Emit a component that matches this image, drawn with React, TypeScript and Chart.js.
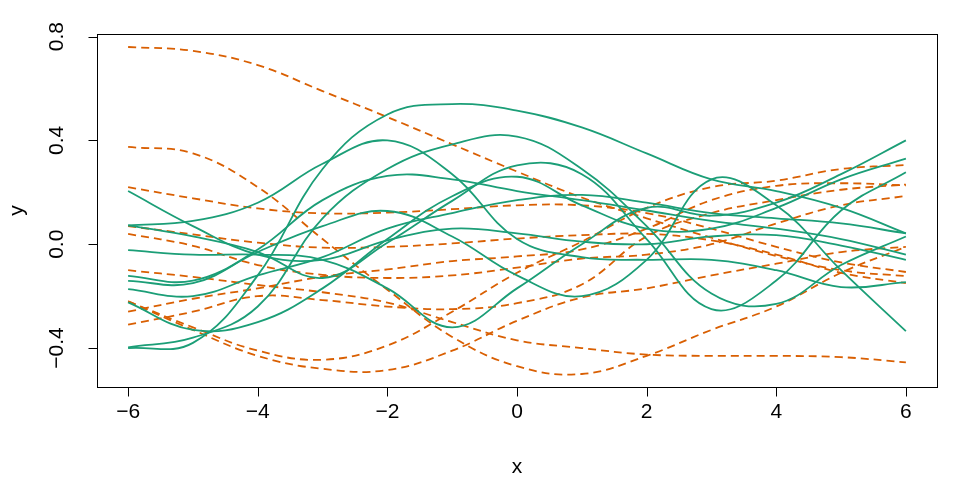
import React, { useEffect, useRef } from "react";
import { Chart, registerables } from "chart.js";

Chart.register(...registerables);

// shared x grid
const xs = [-6, -5, -4, -3, -2, -1, 0, 1, 2, 3, 4, 5, 6];

// green (solid) series
const g1 = [-0.40, -0.38, -0.12, 0.29, 0.5, 0.54, 0.515, 0.45, 0.35, 0.25, 0.205, 0.14, 0.042];
const g2 = [0.073, 0.09, 0.16, 0.31, 0.4, 0.27, 0.02, -0.05, -0.06, -0.06, -0.1, -0.165, -0.146];
const g3 = [-0.397, -0.36, -0.24, 0.1, 0.29, 0.385, 0.415, 0.29, 0.07, -0.19, -0.23, -0.08, 0.03];
const g4 = [-0.141, -0.15, -0.03, 0.07, 0.128, 0.03, -0.12, -0.2, -0.06, 0.25, 0.15, -0.1, -0.335];
const g5 = [0.073, 0.03, -0.03, -0.13, 0.006, 0.167, 0.304, 0.27, 0.02, -0.25, -0.14, 0.13, 0.277];
const g6 = [0.205, 0.07, -0.04, -0.06, 0.015, 0.06, 0.042, 0.01, 0.0, 0.03, 0.035, -0.005, -0.06];
const g7 = [-0.023, -0.04, -0.04, -0.06, -0.17, -0.32, -0.17, 0.0, 0.14, 0.11, 0.16, 0.27, 0.4];
const g8 = [-0.122, -0.14, -0.02, 0.17, 0.263, 0.25, 0.205, 0.17, 0.13, 0.09, 0.06, 0.02, -0.04];
const g9 = [-0.224, -0.33, -0.3, -0.17, 0.02, 0.185, 0.26, 0.15, 0.06, 0.06, 0.14, 0.25, 0.33];
const g10 = [-0.173, -0.2, -0.12, -0.05, 0.06, 0.12, 0.17, 0.19, 0.16, 0.12, 0.1, 0.08, 0.042];

// orange (dashed) series
const o1 = [0.76, 0.745, 0.69, 0.59, 0.49, 0.385, 0.28, 0.18, 0.1, 0.025, -0.045, -0.1, -0.123];
const o2 = [0.375, 0.35, 0.22, 0.02, -0.175, -0.357, -0.47, -0.5, -0.43, -0.33, -0.24, -0.11, -0.01];
const o3 = [0.22, 0.177, 0.138, 0.119, 0.122, 0.135, 0.15, 0.15, 0.12, 0.06, -0.01, -0.07, -0.107];
const o4 = [0.07, 0.038, 0.006, -0.013, -0.01, 0.003, 0.022, 0.035, 0.04, 0.015, -0.04, -0.11, -0.15];
const o5 = [0.04, -0.006, -0.08, -0.118, -0.13, -0.12, -0.09, -0.055, -0.04, 0.0, 0.08, 0.15, 0.186];
const o6 = [-0.1, -0.126, -0.157, -0.185, -0.225, -0.3, -0.37, -0.4, -0.425, -0.43, -0.43, -0.435, -0.455];
const o7 = [-0.22, -0.32, -0.41, -0.445, -0.39, -0.26, -0.11, 0.01, 0.14, 0.22, 0.245, 0.29, 0.305];
const o8 = [-0.22, -0.33, -0.43, -0.48, -0.485, -0.41, -0.295, -0.205, -0.17, -0.12, -0.075, -0.03, -0.01];
const o9 = [-0.26, -0.21, -0.17, -0.125, -0.097, -0.065, -0.047, -0.02, 0.06, 0.17, 0.225, 0.235, 0.227];
const o10 = [-0.31, -0.26, -0.2, -0.215, -0.24, -0.25, -0.227, -0.155, 0.03, 0.12, 0.17, 0.21, 0.23];

const greenSeries = [g1, g2, g3, g4, g5, g6, g7, g8, g9, g10];
const orangeSeries = [o1, o2, o3, o4, o5, o6, o7, o8, o9, o10];

const xTicks = [-6, -4, -2, 0, 2, 4, 6];
const yTicks = [-0.4, 0.0, 0.4, 0.8];
const xTitle = "x";
const yTitle = "y";

const GREEN = "#1B9E77";
const ORANGE = "#D95F02";
const FONT = '21px "Liberation Sans", Arial, sans-serif';

const minus = (s: string) => s.replace("-", "\u2212");

const axesPlugin = {
  id: "rAxes",
  afterDraw(chart: any) {
    const { ctx, chartArea } = chart;
    const xs_ = chart.scales.x;
    const ys_ = chart.scales.y;
    ctx.save();
    ctx.strokeStyle = "#000";
    ctx.lineWidth = 1;
    ctx.setLineDash([]);
    ctx.strokeRect(
      Math.round(chartArea.left) + 0.5,
      Math.round(chartArea.top) + 0.5,
      Math.round(chartArea.right - chartArea.left),
      Math.round(chartArea.bottom - chartArea.top)
    );
    const by = Math.round(chartArea.bottom) + 0.5;
    const lx = Math.round(chartArea.left) + 0.5;
    ctx.fillStyle = "#000";
    ctx.font = FONT;
    ctx.beginPath();
    for (const t of xTicks) {
      const px = Math.round(xs_.getPixelForValue(t)) + 0.5;
      ctx.moveTo(px, by);
      ctx.lineTo(px, by + 9);
    }
    ctx.stroke();
    ctx.textAlign = "center";
    ctx.textBaseline = "middle";
    for (const t of xTicks) {
      const px = xs_.getPixelForValue(t);
      ctx.fillText(minus(String(t)), px, by + 25);
    }
    ctx.fillText(xTitle, (chartArea.left + chartArea.right) / 2, by + 80);
    ctx.beginPath();
    for (const t of yTicks) {
      const py = Math.round(ys_.getPixelForValue(t)) + 0.5;
      ctx.moveTo(lx, py);
      ctx.lineTo(lx - 9, py);
    }
    ctx.stroke();
    for (const t of yTicks) {
      const py = ys_.getPixelForValue(t);
      ctx.save();
      ctx.translate(lx - 40, py);
      ctx.rotate(-Math.PI / 2);
      ctx.fillText(minus(t.toFixed(1)), 0, 0);
      ctx.restore();
    }
    ctx.save();
    ctx.translate(17, (chartArea.top + chartArea.bottom) / 2);
    ctx.rotate(-Math.PI / 2);
    ctx.fillText(yTitle, 0, 0);
    ctx.restore();
    ctx.restore();
  },
};

export default function App() {
  const ref = useRef<HTMLCanvasElement | null>(null);
  useEffect(() => {
    if (!ref.current) return;
    const datasets: any[] = [];
    greenSeries.forEach((s, i) => {
      datasets.push({
        label: "g" + (i + 1),
        data: xs.map((x, j) => ({ x, y: s[j] })),
        borderColor: GREEN,
        borderWidth: 1.8,
        pointRadius: 0,
        tension: 0.4,
        fill: false,
      });
    });
    orangeSeries.forEach((s, i) => {
      datasets.push({
        label: "o" + (i + 1),
        data: xs.map((x, j) => ({ x, y: s[j] })),
        borderColor: ORANGE,
        borderWidth: 1.8,
        borderDash: [8, 5],
        pointRadius: 0,
        tension: 0.4,
        fill: false,
      });
    });
    const chart = new Chart(ref.current, {
      type: "line",
      data: { datasets },
      options: {
        responsive: false,
        animation: false,
        events: [],
        layout: { padding: { left: 97, right: 33, top: 34, bottom: 98 } },
        plugins: { legend: { display: false }, tooltip: { enabled: false } },
        scales: {
          x: { type: "linear", min: -6.48, max: 6.48, display: false },
          y: { type: "linear", min: -0.55, max: 0.81, display: false },
        },
      },
      plugins: [axesPlugin],
    });
    return () => chart.destroy();
  }, []);
  return (
    <div style={{ position: "fixed", left: 0, top: 0, width: 970, height: 485, background: "#fff" }}>
      <canvas ref={ref} width={970} height={485} style={{ display: "block" }} />
    </div>
  );
}
